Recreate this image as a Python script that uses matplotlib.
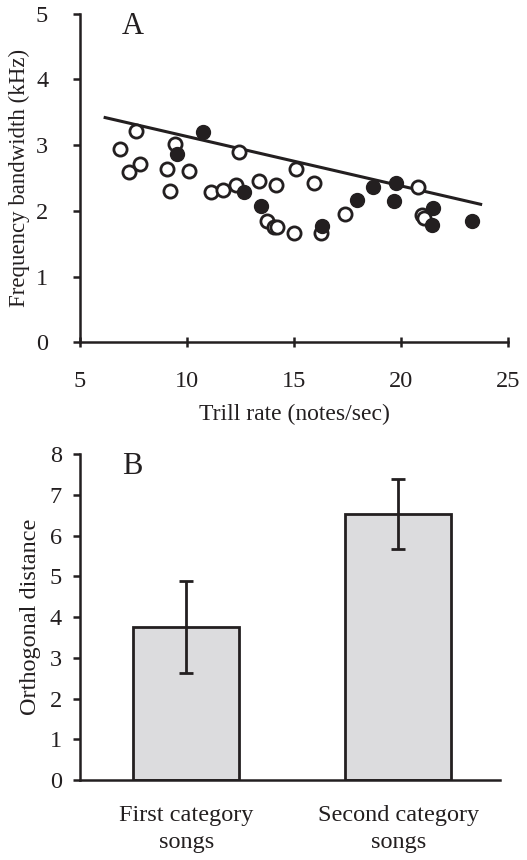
import matplotlib
matplotlib.use("Agg")
import matplotlib.pyplot as plt

plt.rcParams["font.family"] = ["Liberation Serif", "DejaVu Serif"]

INK = "#231f20"

# Panel A: trill rate vs frequency bandwidth
open_x = [6.87, 7.30, 7.62, 7.80, 9.05, 9.21, 9.44, 10.08, 11.12, 11.67, 12.29, 12.43,
          13.35, 13.72, 14.07, 14.22, 14.16, 15.00, 15.09, 15.95, 16.25, 17.38, 20.81,
          20.96, 21.07]
open_y = [2.94, 2.59, 3.21, 2.72, 2.63, 2.30, 3.02, 2.61, 2.28, 2.32, 2.39, 2.89,
          2.45, 1.84, 1.75, 1.75, 2.40, 1.66, 2.63, 2.43, 1.66, 1.96, 2.36,
          1.94, 1.89]
filled_x = [9.52, 10.73, 12.68, 13.44, 16.29, 17.93, 18.68, 19.75, 19.69, 21.51, 21.43, 23.30]
filled_y = [2.87, 3.20, 2.28, 2.07, 1.77, 2.16, 2.37, 2.43, 2.15, 2.04, 1.78, 1.85]
trend_x = [6.17, 23.72]
trend_y = [3.42, 2.10]

# Panel B: orthogonal distance by song category
categories = ["First category\nsongs", "Second category\nsongs"]
means = [3.75, 6.53]
errors = [1.13, 0.87]

fig = plt.figure(figsize=(5.27, 8.6), dpi=100)

# ---- panel A ----
axA = fig.add_axes([0.152, 0.602, 0.812, 0.382])
axA.plot(trend_x, trend_y, color=INK, lw=2.2, zorder=2)
axA.plot(open_x, open_y, "o", ms=9.5, mfc="white", mec=INK, mew=2.0, ls="none", zorder=3)
axA.plot(filled_x, filled_y, "o", ms=10, mfc=INK, mec=INK, mew=1.0, ls="none", zorder=4)

axA.set_xlim(5, 25)
axA.set_ylim(0, 5)
axA.set_xticks([5, 10, 15, 20, 25])
axA.set_yticks([0, 1, 2, 3, 4, 5])
axA.set_xlabel("Trill rate (notes/sec)", fontsize=17, color=INK, labelpad=9)
axA.set_ylabel("Frequency bandwidth (kHz)", fontsize=16.5, color=INK, labelpad=4)
axA.tick_params(axis="y", direction="out", length=5, width=1.8, color=INK,
                labelsize=17.5, labelcolor=INK, pad=18)
axA.tick_params(axis="x", direction="inout", length=7, width=1.8, color=INK,
                labelsize=17.5, labelcolor=INK, pad=17)
axA.text(0.124, 1.005, "A", transform=axA.transAxes, fontsize=22, color=INK,
         ha="center", va="top")

# ---- panel B ----
axB = fig.add_axes([0.152, 0.093, 0.797, 0.379])
axB.bar(range(len(means)), means, width=0.5, color="#dcdcde", edgecolor=INK, linewidth=2,
        yerr=errors, error_kw=dict(ecolor=INK, elinewidth=2, capsize=5, capthick=2),
        zorder=2)
axB.set_xlim(-0.5, 1.48)
axB.set_ylim(0, 8)
axB.set_yticks(range(0, 9))
axB.set_xticks(range(len(categories)))
axB.set_xticklabels(categories, fontsize=17.5, color=INK, linespacing=1.4)
axB.set_ylabel("Orthogonal distance", fontsize=17.5, color=INK, labelpad=6)
axB.tick_params(axis="y", direction="out", length=5, width=1.8, color=INK,
                labelsize=17.5, labelcolor=INK, pad=8)
axB.tick_params(axis="x", length=0, pad=18)
axB.text(0.124, 1.005, "B", transform=axB.transAxes, fontsize=22, color=INK,
         ha="center", va="top")

for ax in (axA, axB):
    for side in ("top", "right"):
        ax.spines[side].set_visible(False)
    for side in ("left", "bottom"):
        ax.spines[side].set_linewidth(1.8)
        ax.spines[side].set_color(INK)

fig.savefig("out.png", dpi=100)
